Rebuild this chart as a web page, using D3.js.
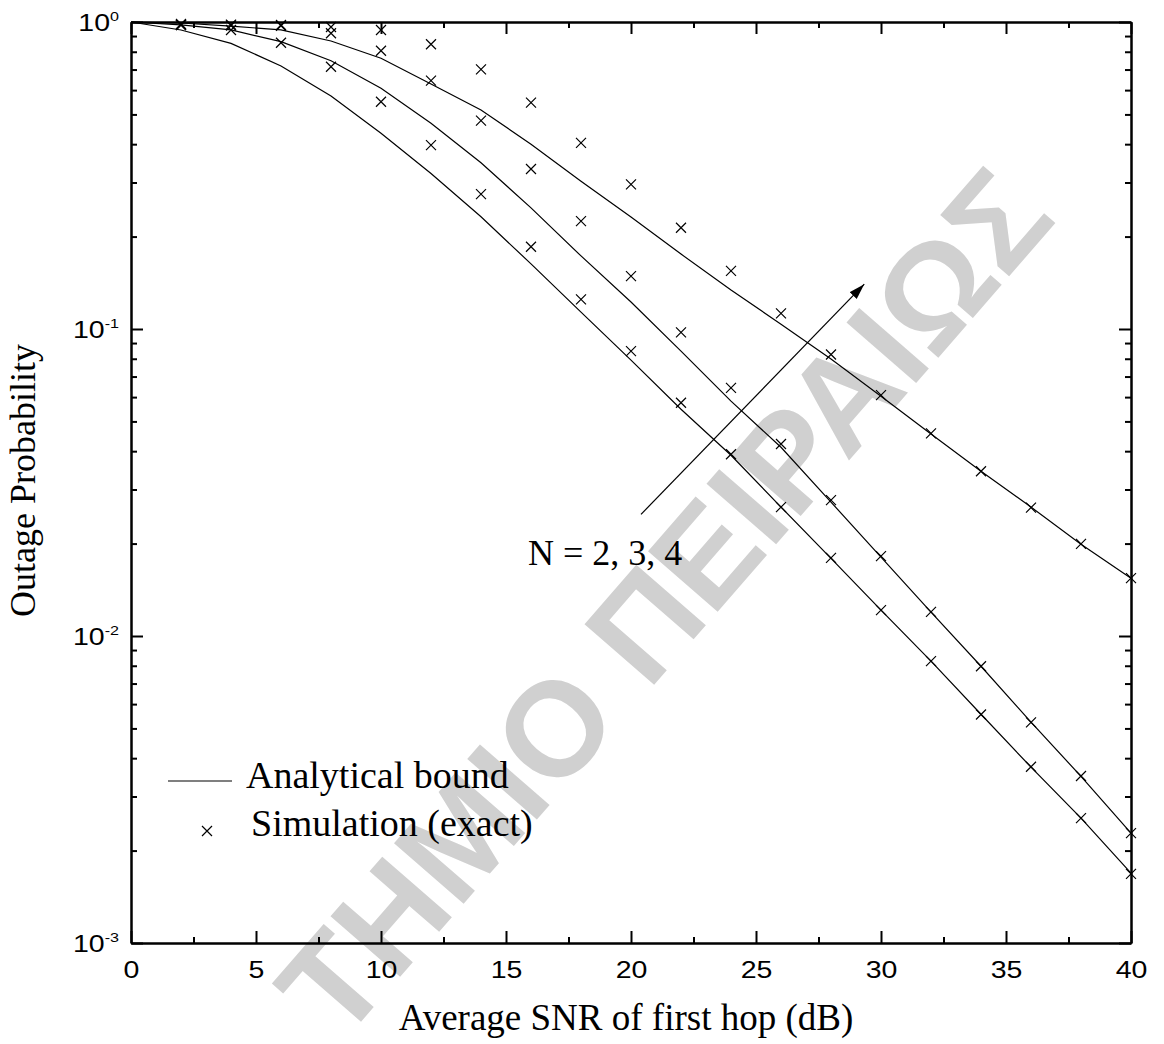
<!DOCTYPE html>
<html>
<head>
<meta charset="utf-8">
<script src="https://cdn.jsdelivr.net/npm/d3@7"></script>
<style>
  html, body { margin: 0; padding: 0; background: #fff; }
  svg { display: block; }
</style>
</head>
<body>
<svg id="chart" width="1164" height="1044"></svg>
<script>
// ---------------- data ----------------
const snrLine = [0,2,4,6,8,10,12,14,16,18,20,22,24,26,28,30,32,34,36,38,40];
const snrSim  = [2,4,6,8,10,12,14,16,18,20,22,24,26,28,30,32,34,36,38,40];

// analytical bound, N = 2, 3, 4
const boundN2 = [1,0.942,0.852,0.719,0.574,0.434,0.321,0.232,0.163,0.1135,0.0792,0.0548,0.0388,0.0263,0.0179,0.01214,0.00828,0.00556,0.00374,0.00255,0.00169];
const boundN3 = [1,0.978,0.942,0.863,0.748,0.608,0.468,0.348,0.248,0.173,0.1224,0.0847,0.0582,0.0412,0.0273,0.01806,0.01196,0.00797,0.00524,0.00349,0.00228];
const boundN4 = [1,0.9925,0.970,0.942,0.867,0.762,0.628,0.517,0.400,0.303,0.2315,0.1754,0.1339,0.1037,0.0798,0.0604,0.0455,0.0344,0.0263,0.0199,0.01543];

// simulation (exact), N = 2, 3, 4
const simN2 = [0.978,0.942,0.856,0.715,0.550,0.397,0.275,0.1853,0.1249,0.0847,0.0575,0.0391,0.0263,0.01797,0.01214,0.00828,0.00555,0.00375,0.00255,0.00168];
const simN3 = [0.978,0.974,0.971,0.919,0.806,0.644,0.477,0.332,0.2247,0.1487,0.0975,0.0643,0.0422,0.0277,0.0182,0.01198,0.00797,0.00523,0.00350,0.00228];
const simN4 = [0.985,0.981,0.978,0.963,0.942,0.846,0.701,0.546,0.404,0.296,0.2137,0.1547,0.1124,0.0826,0.0609,0.0457,0.0344,0.0262,0.01995,0.01543];

const xMajorTicks = [0,5,10,15,20,25,30,35,40];
const xMinorTicks = [2.5,7.5,12.5,17.5,22.5,27.5,32.5,37.5];
const yMajorTicks = [1e-3,1e-2,1e-1,1];
const yTickExponents = ["-3","-2","-1","0"];

const xTitle = "Average SNR of first hop (dB)";
const yTitle = "Outage Probability";
const legendLabels = ["Analytical bound","Simulation (exact)"];
const annotationText = "N = 2, 3, 4";
const watermarkText = "ΤΗΜΙΟ ΠΕΙΡΑΙΩΣ";

// ---------------- layout ----------------
const L = 131, R = 1131, T = 22, B = 943;
const svg = d3.select("#chart");
const x = d3.scaleLinear().domain([0,40]).range([L,R]);
const y = d3.scaleLog().domain([1e-3,1]).range([B,T]);

const yMinorTicks = [];
[-3,-2,-1].forEach(k => { for (let m = 2; m <= 9; m++) yMinorTicks.push(m * Math.pow(10,k)); });

// watermark (beneath everything)
svg.append("text")
  .attr("transform", "translate(1058,220) rotate(-49)")
  .attr("text-anchor", "end")
  .attr("font-family", "Liberation Sans, Arial, sans-serif")
  .attr("font-weight", "bold")
  .attr("font-size", 134)
  .attr("fill", "#d0d0d0")
  .text(watermarkText);

const tickFont = "Liberation Sans, Arial, sans-serif";
const serif = "Liberation Serif, Times New Roman, serif";
const stretch = 1.24;

function styleAxis(g) {
  g.select(".domain").attr("stroke", "#000").attr("stroke-width", 2);
  g.selectAll(".tick line").attr("stroke", "#000").attr("stroke-width", 2);
  g.selectAll(".tick text").attr("fill", "#000");
}

// bottom axis
const gB = svg.append("g").attr("transform", `translate(0,${B})`)
  .call(d3.axisBottom(x).tickValues(xMajorTicks).tickSizeInner(-12).tickSizeOuter(0).tickPadding(19).tickFormat(d3.format("d")));
gB.selectAll(".tick text").attr("font-family", tickFont).attr("font-size", 23)
  .attr("transform", `scale(${stretch},1)`);
styleAxis(gB);
const gBm = svg.append("g").attr("transform", `translate(0,${B})`)
  .call(d3.axisBottom(x).tickValues(xMinorTicks).tickSizeInner(-6).tickSizeOuter(0).tickFormat(""));
styleAxis(gBm);

// top axis
const gT = svg.append("g").attr("transform", `translate(0,${T})`)
  .call(d3.axisTop(x).tickValues(xMajorTicks).tickSizeInner(-12).tickSizeOuter(0).tickFormat(""));
styleAxis(gT);
const gTm = svg.append("g").attr("transform", `translate(0,${T})`)
  .call(d3.axisTop(x).tickValues(xMinorTicks).tickSizeInner(-6).tickSizeOuter(0).tickFormat(""));
styleAxis(gTm);

// left axis
const gL = svg.append("g").attr("transform", `translate(${L},0)`)
  .call(d3.axisLeft(y).tickValues(yMajorTicks).tickSizeInner(-12).tickSizeOuter(0).tickPadding(13).tickFormat(() => ""));
styleAxis(gL);
gL.selectAll(".tick text").each(function(d) {
  const t = d3.select(this)
    .attr("font-family", tickFont).attr("font-size", 23).attr("dy", "0.36em")
    .attr("x", -12 / stretch)
    .attr("transform", `scale(${stretch},1)`);
  t.text(null);
  t.append("tspan").text("10");
  t.append("tspan").attr("dy", -10).attr("font-size", 13).text(yTickExponents[yMajorTicks.indexOf(d)]);
});
const gLm = svg.append("g").attr("transform", `translate(${L},0)`)
  .call(d3.axisLeft(y).tickValues(yMinorTicks).tickSizeInner(-6).tickSizeOuter(0).tickFormat(""));
styleAxis(gLm);

// right axis
const gR = svg.append("g").attr("transform", `translate(${R},0)`)
  .call(d3.axisRight(y).tickValues(yMajorTicks).tickSizeInner(-12).tickSizeOuter(0).tickFormat(""));
styleAxis(gR);
const gRm = svg.append("g").attr("transform", `translate(${R},0)`)
  .call(d3.axisRight(y).tickValues(yMinorTicks).tickSizeInner(-6).tickSizeOuter(0).tickFormat(""));
styleAxis(gRm);

// axis titles
svg.append("text")
  .attr("x", 626).attr("y", 1030)
  .attr("text-anchor", "middle")
  .attr("font-family", serif).attr("font-size", 37)
  .text(xTitle);
svg.append("text")
  .attr("transform", `translate(35,${(T + B) / 2 - 2}) rotate(-90)`)
  .attr("text-anchor", "middle")
  .attr("font-family", serif).attr("font-size", 36)
  .text(yTitle);

// curves
const line = d3.line().x(d => x(d[0])).y(d => y(d[1]));
[boundN2, boundN3, boundN4].forEach(s => {
  svg.append("path")
    .datum(snrLine.map((v, i) => [v, s[i]]))
    .attr("fill", "none").attr("stroke", "#000").attr("stroke-width", 1.2)
    .attr("d", line);
});

// markers
const cross = "M-5,-5L5,5M-5,5L5,-5";
[simN2, simN3, simN4].forEach(s => {
  svg.append("g").selectAll("path")
    .data(snrSim.map((v, i) => [v, s[i]]))
    .join("path")
    .attr("transform", d => `translate(${x(d[0])},${y(d[1])})`)
    .attr("d", cross)
    .attr("fill", "none").attr("stroke", "#000").attr("stroke-width", 1.2);
});

// arrow annotation
const defs = svg.append("defs");
defs.append("marker")
  .attr("id", "arrowhead")
  .attr("markerUnits", "userSpaceOnUse")
  .attr("markerWidth", 18).attr("markerHeight", 12)
  .attr("refX", 16).attr("refY", 5)
  .attr("orient", "auto")
  .append("path").attr("d", "M0,0L16,5L0,10Z").attr("fill", "#000");

const arrowFrom = [20.4, 0.0249], arrowTo = [29.33, 0.140];
svg.append("line")
  .attr("x1", x(arrowFrom[0])).attr("y1", y(arrowFrom[1]))
  .attr("x2", x(arrowTo[0])).attr("y2", y(arrowTo[1]))
  .attr("stroke", "#000").attr("stroke-width", 1.2)
  .attr("marker-end", "url(#arrowhead)");

svg.append("text")
  .attr("x", 528).attr("y", 565)
  .attr("font-family", serif).attr("font-size", 36)
  .text(annotationText);

// legend
svg.append("line").attr("x1", 168).attr("x2", 232).attr("y1", 781).attr("y2", 781)
  .attr("stroke", "#000").attr("stroke-width", 1.2);
svg.append("text").attr("x", 246).attr("y", 788)
  .attr("font-family", serif).attr("font-size", 38).text(legendLabels[0]);
svg.append("path").attr("transform", "translate(207,831)").attr("d", cross)
  .attr("fill", "none").attr("stroke", "#000").attr("stroke-width", 1.2);
svg.append("text").attr("x", 251).attr("y", 836)
  .attr("font-family", serif).attr("font-size", 38).text(legendLabels[1]);
</script>
</body>
</html>
